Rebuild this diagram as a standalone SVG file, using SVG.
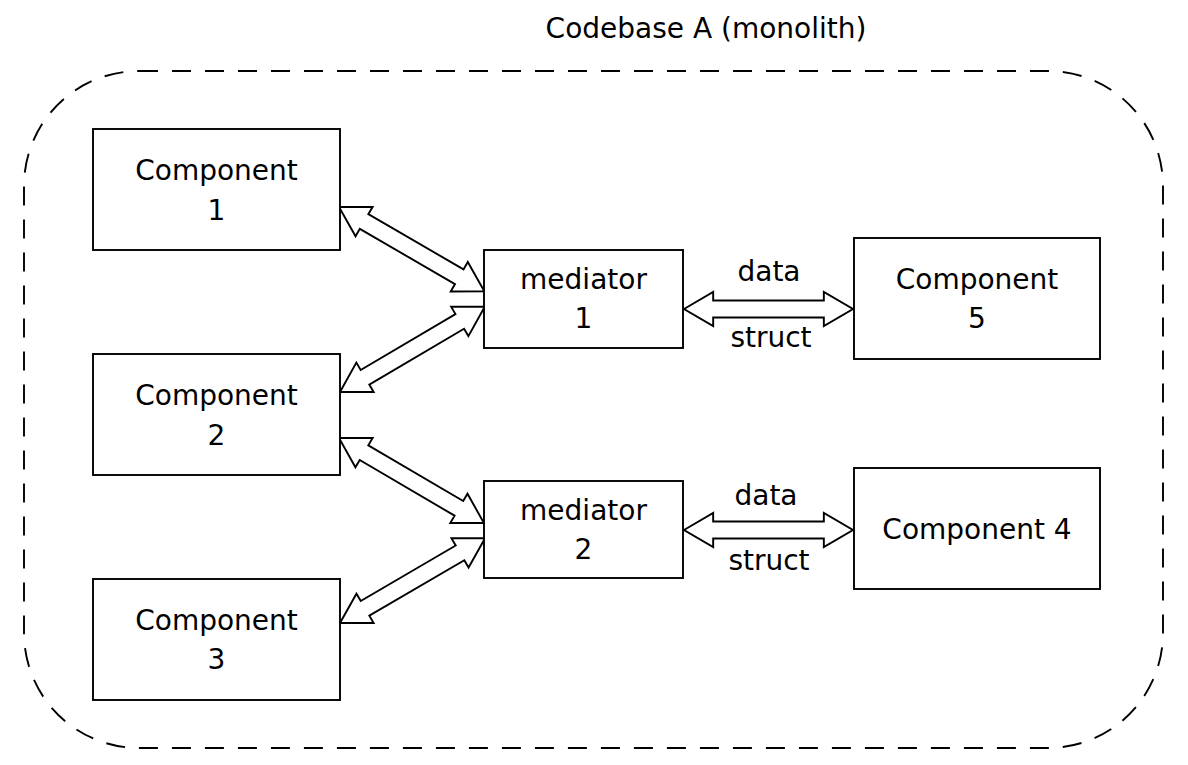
<svg xmlns="http://www.w3.org/2000/svg" xmlns:xlink="http://www.w3.org/1999/xlink" width="1188" height="765" viewBox="0 0 1188 765">
<style>
  .box { fill: #ffffff; stroke: #000000; stroke-width: 1.9; }
  .lbl { font-family: "DejaVu Sans", "Liberation Sans", sans-serif; font-size: 28px; fill: #000000; text-anchor: middle; }
  .arrow { fill: #ffffff; stroke: #000000; stroke-width: 1.9; stroke-linejoin: miter; }
  .boundary { fill: none; stroke: #000000; stroke-width: 1.9; stroke-dasharray: 19 14; }
</style>
<defs>
  <polygon id="dblarrow" points="0,0 29,-17 29,-8.5 139,-8.5 139,-17 168,0 139,17 139,8.5 29,8.5 29,17"/>
</defs>
<rect x="0" y="0" width="1188" height="765" fill="#ffffff"/>

<g id="codebase-a">
  <rect class="boundary" x="24" y="71" width="1139" height="677" rx="115" ry="115"/>
  <text class="lbl" x="706" y="38">Codebase A (monolith)</text>
</g>

<g id="connectors">
  <use class="arrow" xlink:href="#dblarrow" href="#dblarrow" transform="translate(339,207) rotate(30.1)"/>
  <use class="arrow" xlink:href="#dblarrow" href="#dblarrow" transform="translate(340,392) rotate(-30.5)"/>
  <use class="arrow" xlink:href="#dblarrow" href="#dblarrow" transform="translate(339,438) rotate(30.4)"/>
  <use class="arrow" xlink:href="#dblarrow" href="#dblarrow" transform="translate(340,623) rotate(-30.3)"/>
  <use class="arrow" xlink:href="#dblarrow" href="#dblarrow" transform="translate(684,309) scale(1.006,1)"/>
  <use class="arrow" xlink:href="#dblarrow" href="#dblarrow" transform="translate(684,530) scale(1.006,1)"/>
  <text class="lbl" x="769" y="281">data</text>
  <text class="lbl" x="771" y="347">struct</text>
  <text class="lbl" x="766" y="505">data</text>
  <text class="lbl" x="769" y="570">struct</text>
</g>

<g id="component-1">
  <rect class="box" x="93" y="129" width="247" height="121"/>
  <text class="lbl" x="216.5" y="180">Component</text>
  <text class="lbl" x="216.5" y="220">1</text>
</g>
<g id="component-2">
  <rect class="box" x="93" y="354" width="247" height="121"/>
  <text class="lbl" x="216.5" y="405">Component</text>
  <text class="lbl" x="216.5" y="445">2</text>
</g>
<g id="component-3">
  <rect class="box" x="93" y="579" width="247" height="121"/>
  <text class="lbl" x="216.5" y="630">Component</text>
  <text class="lbl" x="216.5" y="669">3</text>
</g>
<g id="mediator-1">
  <rect class="box" x="484" y="250" width="199" height="98"/>
  <text class="lbl" x="583.5" y="289">mediator</text>
  <text class="lbl" x="583.5" y="328">1</text>
</g>
<g id="mediator-2">
  <rect class="box" x="484" y="481" width="199" height="97"/>
  <text class="lbl" x="583.5" y="520">mediator</text>
  <text class="lbl" x="583.5" y="559">2</text>
</g>
<g id="component-5">
  <rect class="box" x="854" y="238" width="246" height="121"/>
  <text class="lbl" x="977" y="289">Component</text>
  <text class="lbl" x="977" y="328">5</text>
</g>
<g id="component-4">
  <rect class="box" x="854" y="468" width="246" height="121"/>
  <text class="lbl" x="977" y="539">Component 4</text>
</g>
</svg>
